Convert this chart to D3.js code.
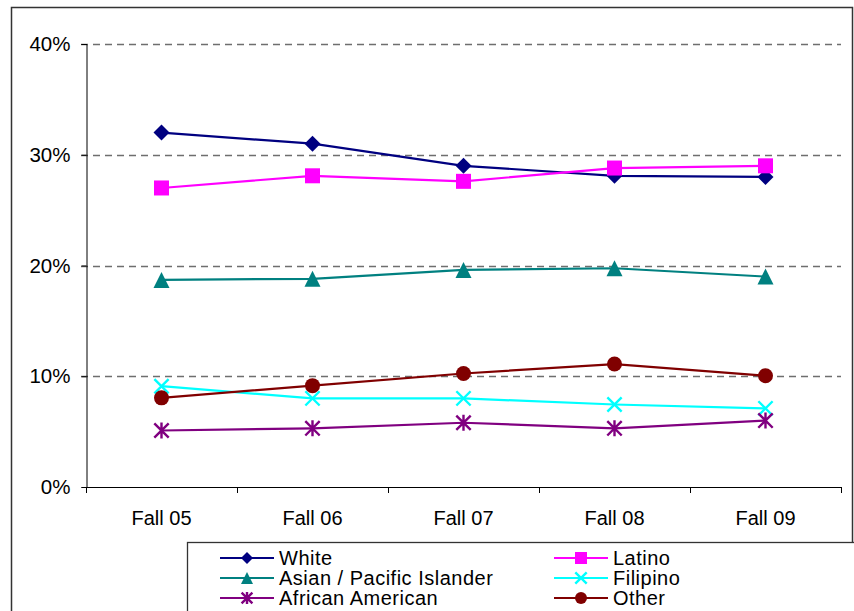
<!DOCTYPE html>
<html>
<head>
<meta charset="utf-8">
<script src="https://cdn.jsdelivr.net/npm/d3@7/dist/d3.min.js"></script>
<style>
  html, body { margin: 0; padding: 0; background: #fff; }
  svg { display: block; font-family: "Liberation Sans", Arial, sans-serif; }
</style>
</head>
<body>
<svg id="chart" width="854" height="611"></svg>
<script>
// Enrollment share by ethnicity, Fall 2005 – Fall 2009
const terms = ["Fall 05", "Fall 06", "Fall 07", "Fall 08", "Fall 09"];
const white = [32.0, 31.0, 29.0, 28.1, 28.0];
const latino = [27.0, 28.1, 27.6, 28.8, 29.0];
const asianPacific = [18.7, 18.8, 19.6, 19.75, 19.0];
const filipino = [9.1, 8.0, 8.0, 7.45, 7.1];
const africanAmerican = [5.1, 5.3, 5.8, 5.3, 6.0];
const other = [8.05, 9.15, 10.25, 11.1, 10.05];
const yTicks = [0, 10, 20, 30, 40];

const series = [
  { name: "White", values: white, color: "#000080", symbol: "diamond" },
  { name: "Latino", values: latino, color: "#FF00FF", symbol: "square" },
  { name: "Asian / Pacific Islander", values: asianPacific, color: "#008080", symbol: "triangle" },
  { name: "Filipino", values: filipino, color: "#00FFFF", symbol: "x" },
  { name: "African American", values: africanAmerican, color: "#800080", symbol: "star" },
  { name: "Other", values: other, color: "#800000", symbol: "circle" }
];

const svg = d3.select("#chart");

// outer frame
svg.append("rect")
  .attr("x", 11.5).attr("y", 7.5)
  .attr("width", 841).attr("height", 620)
  .attr("fill", "#fff").attr("stroke", "#333").attr("stroke-width", 1.5);

const plot = { left: 86, right: 841, top: 44, bottom: 487 };

const x = d3.scaleBand().domain(terms).range([plot.left, plot.right]).padding(0);
const y = d3.scaleLinear().domain([0, 40]).range([plot.bottom, plot.top]);

// dashed gridlines
svg.append("g")
  .selectAll("line")
  .data(yTicks.filter(d => d > 0))
  .join("line")
  .attr("x1", plot.left - 5).attr("x2", plot.right)
  .attr("y1", d => Math.round(y(d)) + 0.5).attr("y2", d => Math.round(y(d)) + 0.5)
  .attr("stroke", "#6e6e6e").attr("stroke-width", 1.3)
  .attr("stroke-dasharray", "7,5");

// y axis
const yAxis = svg.append("g")
  .attr("transform", `translate(${plot.left + 0.5},0)`)
  .call(d3.axisLeft(y).tickValues(yTicks).tickFormat(d => d + "%").tickSize(5).tickPadding(11));
yAxis.select(".domain").attr("stroke", "#000");
yAxis.selectAll(".tick line").attr("stroke", "#000");
yAxis.selectAll(".tick text")
  .attr("font-size", 20.5).attr("fill", "#000")
  .attr("font-family", "'Liberation Sans', Arial, sans-serif");

// x axis: ticks on category boundaries
const boundaries = terms.map(t => x(t)).concat([plot.right]);
const xg = svg.append("g");
xg.append("line")
  .attr("x1", plot.left).attr("x2", plot.right)
  .attr("y1", plot.bottom + 0.5).attr("y2", plot.bottom + 0.5)
  .attr("stroke", "#000");
xg.selectAll("line.tick")
  .data(boundaries)
  .join("line").attr("class", "tick")
  .attr("x1", d => Math.round(d) + 0.5).attr("x2", d => Math.round(d) + 0.5)
  .attr("y1", plot.bottom).attr("y2", plot.bottom + 6)
  .attr("stroke", "#000");
xg.selectAll("text")
  .data(terms)
  .join("text")
  .attr("x", d => x(d) + x.bandwidth() / 2)
  .attr("y", 525)
  .attr("text-anchor", "middle")
  .attr("font-size", 20)
  .attr("fill", "#000")
  .text(d => d);

// marker drawing
function drawMarker(g, symbol, color, s) {
  const h = s / 2;
  if (symbol === "diamond") {
    g.append("path").attr("d", `M0,${-h}L${h},0L0,${h}L${-h},0Z`).attr("fill", color);
  } else if (symbol === "square") {
    g.append("rect").attr("x", -h).attr("y", -h).attr("width", s).attr("height", s).attr("fill", color);
  } else if (symbol === "triangle") {
    g.append("path").attr("d", `M0,${-h}L${h},${h}L${-h},${h}Z`).attr("fill", color);
  } else if (symbol === "circle") {
    g.append("circle").attr("r", h).attr("fill", color);
  } else if (symbol === "x") {
    const k = h * 0.95;
    g.append("path").attr("d", `M${-k},${-k}L${k},${k}M${-k},${k}L${k},${-k}`)
      .attr("stroke", color).attr("stroke-width", 2.4).attr("fill", "none");
  } else if (symbol === "star") {
    const k = h * 0.9;
    g.append("path").attr("d", `M${-k},${-k}L${k},${k}M${-k},${k}L${k},${-k}M0,${-h}L0,${h}`)
      .attr("stroke", color).attr("stroke-width", 2.4).attr("fill", "none");
  }
}

const line = d3.line()
  .x((d, i) => x(terms[i]) + x.bandwidth() / 2)
  .y(d => y(d));

const markerSize = { diamond: 16, square: 15, triangle: 16, circle: 15, x: 15, star: 16 };

series.forEach(s => {
  const g = svg.append("g");
  g.append("path")
    .datum(s.values)
    .attr("d", line)
    .attr("fill", "none")
    .attr("stroke", s.color)
    .attr("stroke-width", 2.2);
  s.values.forEach((v, i) => {
    const m = g.append("g")
      .attr("transform", `translate(${x(terms[i]) + x.bandwidth() / 2},${y(v)})`);
    drawMarker(m, s.symbol, s.color, markerSize[s.symbol]);
  });
});

// legend
const legend = svg.append("g");
legend.append("rect")
  .attr("x", 187.5).attr("y", 542.5)
  .attr("width", 700).attr("height", 100)
  .attr("fill", "#fff").attr("stroke", "#333").attr("stroke-width", 1.3);

const legendOrder = ["White", "Latino", "Asian / Pacific Islander", "Filipino", "African American", "Other"];
legendOrder.forEach((name, i) => {
  const s = series.find(d => d.name === name);
  const col = i % 2, row = Math.floor(i / 2);
  const lx = col === 0 ? 220 : 554;
  const ly = 558 + row * 20;
  const g = legend.append("g");
  g.append("line")
    .attr("x1", lx).attr("x2", lx + 54)
    .attr("y1", ly).attr("y2", ly)
    .attr("stroke", s.color).attr("stroke-width", 2.2);
  const m = g.append("g").attr("transform", `translate(${lx + 27},${ly})`);
  drawMarker(m, s.symbol, s.color, 12);
  g.append("text")
    .attr("x", lx + 59)
    .attr("y", ly + 7)
    .attr("font-size", 20)
    .attr("letter-spacing", 0.5)
    .attr("fill", "#000")
    .text(s.name);
});
</script>
</body>
</html>
